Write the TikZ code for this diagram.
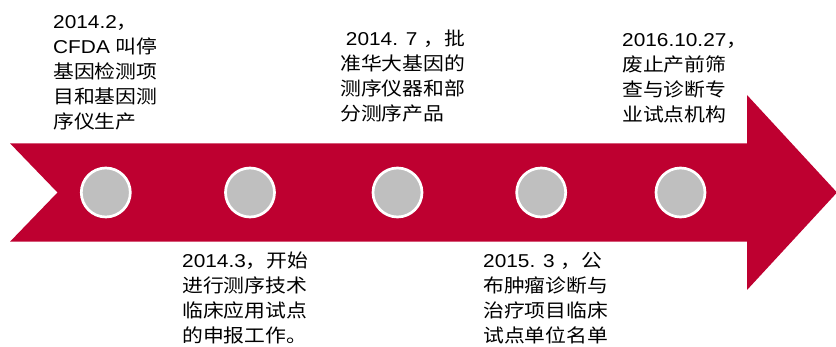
\documentclass[tikz,border=0pt]{standalone}
\usepackage{fontspec}
\setmainfont{Liberation Sans}[FakeStretch=1.12]
\newfontfamily\cjkfont{Noto Sans CJK SC}[FakeStretch=1.12]
\newcommand{\cj}[1]{{\cjkfont #1}}
\definecolor{arrowred}{RGB}{190,0,48}
\definecolor{dotgray}{RGB}{191,191,191}
\begin{document}
\begin{tikzpicture}[x=1pt,y=-1pt,
  arrowbody/.style={fill=arrowred},
  dot/.style={circle, minimum size=49pt, inner sep=0pt, fill=dotgray, draw=white, line width=2.7pt},
  lbl/.style={anchor=base west, inner sep=0pt, align=left, text=black, font=\fontsize{18.6}{25}\selectfont}]
\useasboundingbox (0,0) rectangle (836,347);
% arrow
\fill[arrowbody] (10,143.3) -- (747,143.3) -- (747,95) -- (837,192.5) -- (747,290) -- (747,241.7) -- (10,241.7) -- (57.5,192.5) -- cycle;
% dots
\node[dot] (c1) at (105.8,192.5) {};
\node[dot] (c2) at (250,192.5) {};
\node[dot] (c3) at (397.5,192.5) {};
\node[dot] (c4) at (541.2,192.5) {};
\node[dot] (c5) at (680.5,192.5) {};
% labels (anchored at the baseline of the last line)
\node[lbl] (t1) at (53,128.5) {2014.2\cj{，}\\CFDA \cj{叫停}\\\cj{基因检测项}\\\cj{目和基因测}\\\cj{序仪生产}};
\node[lbl] (t2) at (182,343) {2014.3\cj{，开始}\\\cj{进行测序技术}\\\cj{临床应用试点}\\\cj{的申报工作。}};
\node[lbl] (t3) at (340,120.5) {\ 2014. 7 \cj{，批}\\\cj{准华大基因的}\\\cj{测序仪器和部}\\\cj{分测序产品}};
\node[lbl] (t4) at (483,343) {2015. 3 \cj{，公}\\\cj{布肿瘤诊断与}\\\cj{治疗项目临床}\\\cj{试点单位名单}};
\node[lbl] (t5) at (622,122) {2016.10.27\cj{，}\\\cj{废止产前筛}\\\cj{查与诊断专}\\\cj{业试点机构}};
\end{tikzpicture}
\end{document}
